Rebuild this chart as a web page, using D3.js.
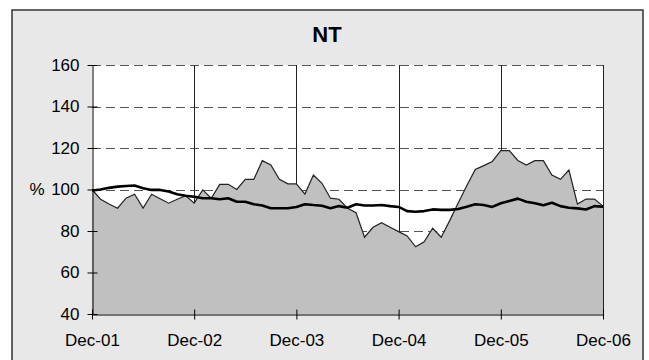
<!DOCTYPE html>
<html><head><meta charset="utf-8">
<script src="https://cdn.jsdelivr.net/npm/d3@7"></script>
<style>
html,body{margin:0;padding:0;background:#fff;}
svg{display:block;font-family:"Liberation Sans",Arial,sans-serif;}
</style></head>
<body><svg id="c" width="649" height="360"></svg>
<script>
const title = "NT";
const yLabel = "%";
const xTickLabels = ["Dec-01","Dec-02","Dec-03","Dec-04","Dec-05","Dec-06"];
const yTicks = [40,60,80,100,120,140,160];
// monthly values Dec-01 .. Dec-06 (61 points)
const areaValues = [100,95.3,93,91,95.8,97.7,91,97.7,95.5,93.4,95.3,97,
  93.4,99.8,95.8,102.5,102.5,100,104.9,104.9,113.9,111.8,104.9,102.7,
  102.7,97.8,107,103,95.8,95.3,91,88.8,77,81.8,84,81.8,
  79.7,77.6,72.4,74.8,81.3,77,85,93.5,101.8,109.7,111.5,113.5,
  118.7,118.7,114,111.8,113.9,113.9,107,104.9,109.4,93,95.4,95.4,
  92];
const lineValues = [99.5,100,100.8,101.4,101.7,101.9,100.6,99.8,99.8,99,97.7,97,
  96.5,95.8,95.8,95.3,95.8,94.1,94.1,92.9,92.3,91,91,91,
  91.6,92.9,92.5,92.2,91,92,91.2,92.9,92.3,92.3,92.5,92,
  91.6,89.6,89.3,89.6,90.4,90.2,90.2,90.6,91.7,92.9,92.5,91.6,
  93.4,94.5,95.6,94.1,93.4,92.4,93.6,92,91.2,90.9,90.4,92,
  91.7];

const svg = d3.select("#c");
const L=92, R=603, T=65, B=314;
const FS = 17;
const x = d3.scaleLinear().domain([0,60]).range([L,R]);
const y = d3.scaleLinear().domain([40,160]).range([B,T]);

svg.append("rect").attr("x",12).attr("y",10).attr("width",631).attr("height",360)
  .attr("fill","#e8e8e8").attr("stroke","#333").attr("stroke-width",1.5);
svg.append("rect").attr("x",L).attr("y",T).attr("width",R-L).attr("height",B-T).attr("fill","#fff");

// horizontal dashed grid
svg.append("g").selectAll("line").data(yTicks.filter(v=>v>40)).join("line")
  .attr("x1",L).attr("x2",R).attr("y1",d=>Math.round(y(d))+0.5).attr("y2",d=>Math.round(y(d))+0.5)
  .attr("stroke","#555").attr("stroke-dasharray","9,5");
// vertical year lines
svg.append("g").selectAll("line").data([12,24,36,48]).join("line")
  .attr("x1",d=>Math.round(x(d))+0.5).attr("x2",d=>Math.round(x(d))+0.5).attr("y1",T).attr("y2",B)
  .attr("stroke","#222");

const idx = d3.range(areaValues.length);
svg.append("path").datum(idx)
  .attr("d", d3.area().x(i=>x(i)).y0(y(40)).y1(i=>y(areaValues[i])))
  .attr("fill","#c0c0c0");
svg.append("path").datum(idx)
  .attr("d", d3.line().x(i=>x(i)).y(i=>y(areaValues[i])))
  .attr("fill","none").attr("stroke","#222").attr("stroke-width",1.2);
svg.append("path").datum(idx)
  .attr("d", d3.line().x(i=>x(i)).y(i=>y(lineValues[i])))
  .attr("fill","none").attr("stroke","#000").attr("stroke-width",2.6).attr("stroke-linejoin","round");

// right border
svg.append("line").attr("x1",R+0.5).attr("x2",R+0.5).attr("y1",T).attr("y2",B).attr("stroke","#222");

// axes
const yAxis = d3.axisLeft(y).tickValues(yTicks).tickSize(0).tickPadding(13);
const gy = svg.append("g").attr("transform",`translate(${L+0.5},0)`).call(yAxis);
gy.select(".domain").attr("stroke","#000");
gy.selectAll(".tick line").remove();
gy.selectAll(".tick").append("line").attr("x1",-5).attr("x2",5).attr("stroke","#000");
gy.selectAll("text").attr("font-size",FS).attr("fill","#000").attr("font-family","Liberation Sans, Arial, sans-serif");

const xAxis = d3.axisBottom(x).tickValues([0,12,24,36,48,60]).tickFormat((d,i)=>xTickLabels[i]).tickSize(0).tickPadding(19);
const gx = svg.append("g").attr("transform",`translate(0,${B+0.5})`).call(xAxis);
gx.select(".domain").attr("stroke","#000");
gx.selectAll(".tick line").remove();
gx.selectAll(".tick").append("line").attr("y1",-5).attr("y2",5).attr("stroke","#000");
gx.selectAll("text").attr("font-size",FS).attr("fill","#000").attr("font-family","Liberation Sans, Arial, sans-serif");

svg.append("text").attr("x",37).attr("y",y(100)).attr("dy","0.35em").attr("text-anchor","middle")
  .attr("font-size",FS).text(yLabel);
svg.append("text").attr("x",327).attr("y",42).attr("text-anchor","middle")
  .attr("font-size",22).attr("font-weight","bold").text(title);
</script></body></html>
